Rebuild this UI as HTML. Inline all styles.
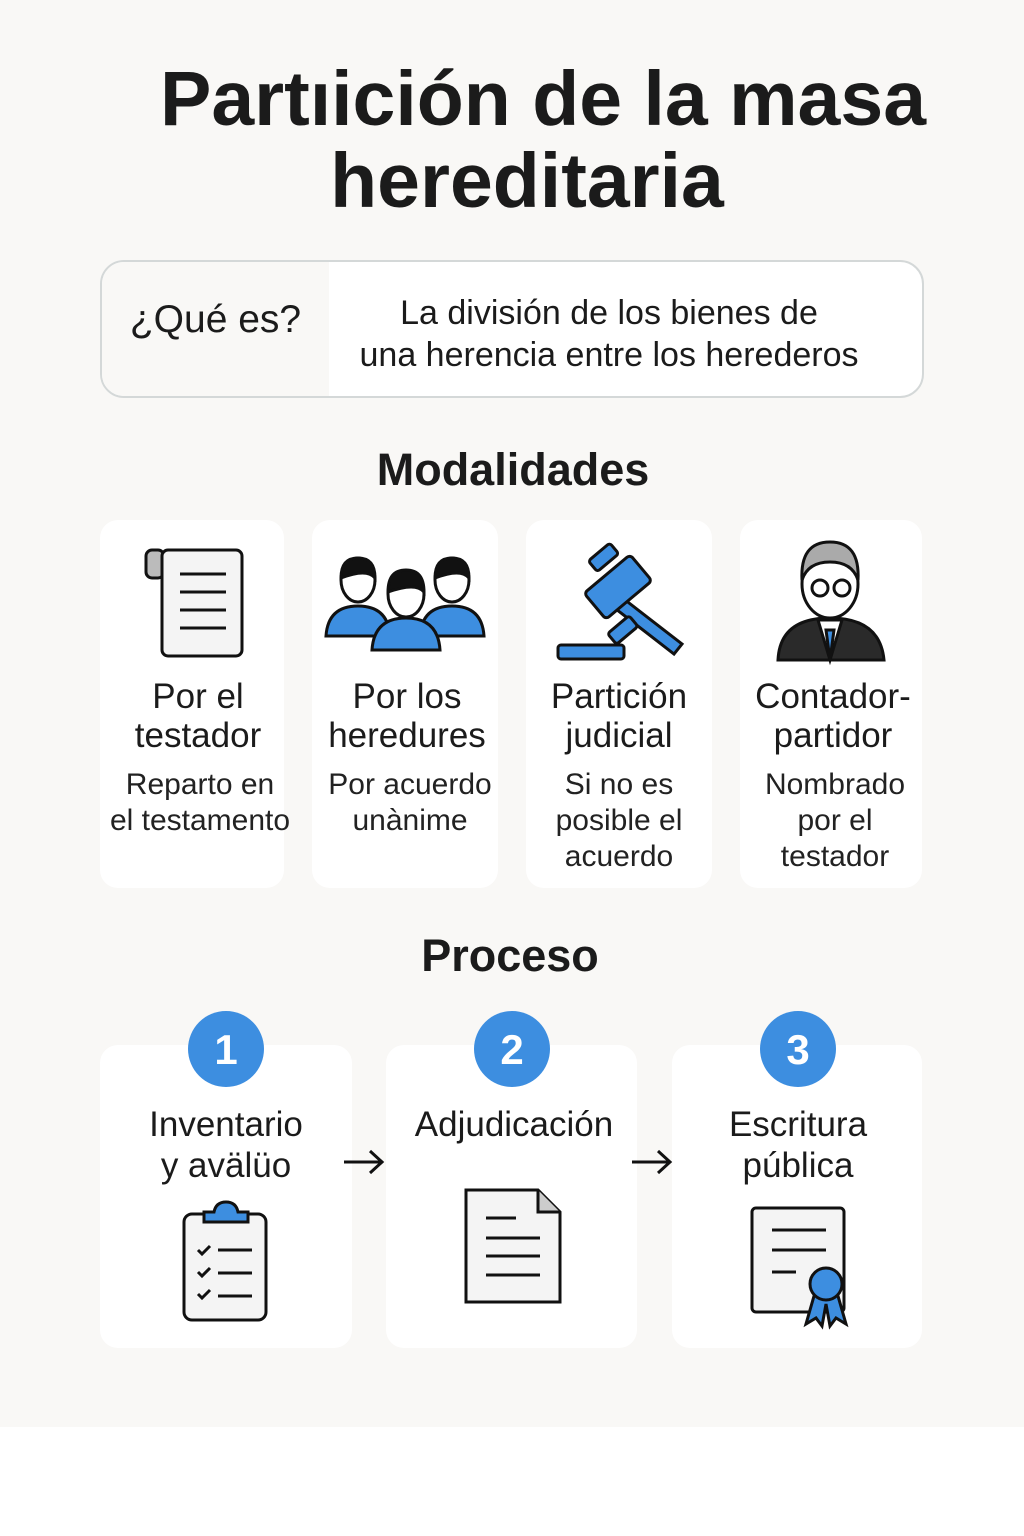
<!DOCTYPE html>
<html><head><meta charset="utf-8"><style>
body{margin:0;width:1024px;height:1536px;background:#fff;font-family:"Liberation Sans","DejaVu Sans",sans-serif;color:#1b1b1b;position:relative;overflow:hidden}
.bg{position:absolute;left:0;top:0;width:1024px;height:1427px;background:#f9f8f6}
.abs{position:absolute}
.t{position:absolute;text-align:center;white-space:nowrap}
.card{position:absolute;background:#fff;border-radius:18px}
.h{font-size:35px;line-height:39px}
.s{font-size:30px;line-height:36px;color:#222}
</style></head><body>
<div class="bg"></div>
<div class="t" style="left:0;width:1086px;top:58px;font-size:77px;font-weight:bold;line-height:82px">Partıición de la masa</div>
<div class="t" style="left:0;width:1054px;top:140px;font-size:77px;font-weight:bold;line-height:82px">hereditaria</div>

<div class="abs" style="left:100px;top:260px;width:820px;height:134px;border:2px solid #d4d8d8;border-radius:24px;background:#fff;overflow:hidden">
<div class="abs" style="left:0;top:0;width:227px;height:134px;background:#f9f8f6"></div>
<div class="t" style="left:0;width:227px;top:36px;font-size:39px;line-height:44px">¿Qué es?</div>
<div class="t" style="left:227px;width:560px;top:30px;font-size:34px;line-height:42px">La división de los bienes de<br>una herencia entre los herederos</div>
</div>

<div class="t" style="left:0;width:1026px;top:444px;font-size:45px;font-weight:bold;line-height:52px">Modalidades</div>

<div class="card" style="left:100px;top:520px;width:184px;height:368px"></div>
<div class="card" style="left:312px;top:520px;width:186px;height:368px"></div>
<div class="card" style="left:526px;top:520px;width:186px;height:368px"></div>
<div class="card" style="left:740px;top:520px;width:182px;height:368px"></div>

<svg class="abs" style="left:0;top:530px" width="1024" height="140" viewBox="0 530 1024 140">
<rect x="146" y="550" width="18" height="28" rx="6" fill="#bbb" stroke="#111" stroke-width="3"/>
<rect x="162" y="550" width="80" height="106" rx="6" fill="#f4f4f4" stroke="#111" stroke-width="3"/>
<g stroke="#111" stroke-width="3"><line x1="180" y1="574" x2="226" y2="574"/><line x1="180" y1="592" x2="226" y2="592"/><line x1="180" y1="610" x2="226" y2="610"/><line x1="180" y1="628" x2="226" y2="628"/></g>
<g stroke="#111" stroke-width="3">
<path d="M326 636 q2-30 32-30 q30 0 32 30z" fill="#3d8ee0"/><ellipse cx="358" cy="580" rx="17" ry="22" fill="#fff"/><path d="M341 578 q0-20 17-20 q17 0 17 20 q-8-10-34 0z" fill="#111"/>
<path d="M420 636 q2-30 32-30 q30 0 32 30z" fill="#3d8ee0"/><ellipse cx="452" cy="580" rx="17" ry="22" fill="#fff"/><path d="M435 578 q0-20 17-20 q17 0 17 20 q-8-10-34 0z" fill="#111"/>
<path d="M372 650 q2-32 34-32 q32 0 34 32z" fill="#3d8ee0"/><ellipse cx="406" cy="594" rx="18" ry="23" fill="#fff"/><path d="M388 592 q0-22 18-22 q18 0 18 22 q-8-10-36 0z" fill="#111"/>
</g>
<g stroke="#111" stroke-width="3" fill="#3d8ee0">
<rect x="558" y="645" width="66" height="14" rx="3"/>
<path d="M620 596 l62 48 l-8 10 l-62-48z"/>
<rect x="588" y="570" width="60" height="34" rx="4" transform="rotate(-40 618 587)"/>
<rect x="612" y="548" width="28" height="14" rx="3" transform="rotate(-40 618 587)"/>
<rect x="580" y="616" width="28" height="14" rx="3" transform="rotate(-40 618 587)"/>
</g>
<g stroke="#111" stroke-width="3">
<path d="M778 660 q2-42 52-42 q50 0 54 42z" fill="#2a2a2a"/>
<path d="M818 620 l12 40 l12-40z" fill="#fff"/>
<path d="M826 630 l4 30 l4-30z" fill="#3d8ee0"/>
<ellipse cx="830" cy="584" rx="28" ry="34" fill="#fff"/>
<path d="M802 580 q-2-38 28-38 q30 0 28 38 q-6-18-28-18 q-22 0-28 18z" fill="#aaa"/>
<circle cx="820" cy="588" r="8" fill="#fff"/><circle cx="842" cy="588" r="8" fill="#fff"/>
</g>
</svg>

<div class="t h" style="left:100px;width:196px;top:677px">Por el<br>testador</div>
<div class="t s" style="left:100px;width:200px;top:767px">Reparto en<br>el testamento</div>
<div class="t h" style="left:312px;width:190px;top:677px">Por los<br>heredures</div>
<div class="t s" style="left:312px;width:196px;top:767px">Por acuerdo<br>unànime</div>
<div class="t h" style="left:526px;width:186px;top:677px">Partición<br>judicial</div>
<div class="t s" style="left:526px;width:186px;top:767px">Si no es<br>posible el<br>acuerdo</div>
<div class="t h" style="left:740px;width:186px;top:677px">Contador-<br>partidor</div>
<div class="t s" style="left:740px;width:190px;top:767px">Nombrado<br>por el<br>testador</div>

<div class="t" style="left:0;width:1020px;top:930px;font-size:45px;font-weight:bold;line-height:52px">Proceso</div>

<div class="card" style="left:100px;top:1045px;width:252px;height:303px"></div>
<div class="card" style="left:386px;top:1045px;width:251px;height:303px"></div>
<div class="card" style="left:672px;top:1045px;width:250px;height:303px"></div>

<svg class="abs" style="left:0;top:1000px" width="1024" height="340" viewBox="0 1000 1024 340">
<g fill="#3d8ee0"><circle cx="226" cy="1049" r="38"/><circle cx="512" cy="1049" r="38"/><circle cx="798" cy="1049" r="38"/></g>
<g fill="#fff" font-size="42" font-weight="bold" font-family="Liberation Sans, sans-serif" text-anchor="middle"><text x="226" y="1064">1</text><text x="512" y="1064">2</text><text x="798" y="1064">3</text></g>
<g stroke="#111" stroke-width="3" fill="none"><path d="M344 1162 h38 M370 1151 l12 11 l-12 11"/><path d="M632 1162 h38 M658 1151 l12 11 l-12 11"/></g>
<g stroke="#111" stroke-width="3">
<rect x="184" y="1214" width="82" height="106" rx="8" fill="#f4f4f4"/>
<path d="M204 1222 v-10 h10 q2-10 12-10 q10 0 12 10 h10 v10z" fill="#3d8ee0"/>
<path d="M198 1250 l4 4 l8-8 M198 1272 l4 4 l8-8 M198 1294 l4 4 l8-8" fill="none"/>
<path d="M218 1250 h34 M218 1273 h34 M218 1296 h34"/>
</g>
<g stroke="#111" stroke-width="3">
<path d="M466 1190 h72 l22 22 v90 h-94z" fill="#f4f4f4"/><path d="M538 1190 v22 h22" fill="#ccc"/>
<path d="M486 1218 h30 M486 1238 h54 M486 1256 h54 M486 1275 h54"/>
</g>
<g stroke="#111" stroke-width="3">
<rect x="752" y="1208" width="92" height="104" rx="4" fill="#f4f4f4"/>
<path d="M772 1230 h54 M772 1250 h54 M772 1272 h24"/>
<path d="M814 1296 l-8 28 l10-6 l6 8 l4-22 l4 22 l6-8 l10 6 l-8-28z" fill="#3d8ee0"/>
<circle cx="826" cy="1284" r="16" fill="#3d8ee0"/>
</g>
</svg>

<div class="t" style="left:100px;width:252px;top:1104px;font-size:35px;line-height:41px">Inventario<br>y avälüo</div>
<div class="t" style="left:386px;width:256px;top:1104px;font-size:35px;line-height:41px">Adjudicación</div>
<div class="t" style="left:672px;width:252px;top:1104px;font-size:35px;line-height:41px">Escritura<br>pública</div>
</body></html>
